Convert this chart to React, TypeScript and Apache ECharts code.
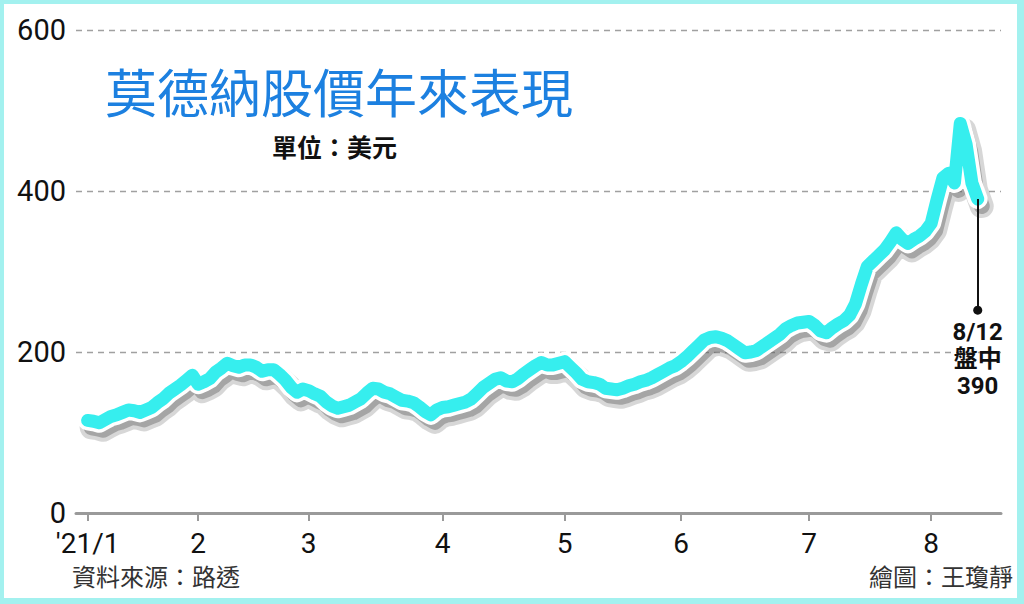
import React, { useEffect, useRef } from "react";
import * as echarts from "echarts";

const janDays = [4, 5, 6, 7, 8, 11, 12, 13, 14, 15, 19, 20, 21, 22, 25, 26, 27, 28, 29];
const febDays = [1, 2, 3, 4, 5, 8, 9, 10, 11, 12, 16, 17, 18, 19, 22, 23, 24, 25, 26];
const marDays = [1, 2, 3, 4, 5, 8, 9, 10, 11, 12, 15, 16, 17, 18, 19, 22, 23, 24, 25, 26, 29, 30, 31];
const aprDays = [1, 5, 6, 7, 8, 9, 12, 13, 14, 15, 16, 19, 20, 21, 22, 23, 26, 27, 28, 29, 30];
const mayDays = [3, 4, 5, 6, 7, 10, 11, 12, 13, 14, 17, 18, 19, 20, 21, 24, 25, 26, 27, 28];
const junDays = [1, 2, 3, 4, 7, 8, 9, 10, 11, 14, 15, 16, 17, 18, 21, 22, 23, 24, 25, 28, 29, 30];
const julDays = [1, 2, 6, 7, 8, 9, 12, 13, 14, 15, 16, 19, 20, 21, 22, 23, 26, 27, 28, 29, 30];
const augDays = [2, 3, 4, 5, 6, 9, 10, 11, 12];

const janPrices = [115, 114, 112, 116, 120, 122, 125, 128, 127, 125, 128, 131, 137, 142, 149, 154, 159, 165, 171];
const febPrices = [160, 163, 167, 175, 180, 186, 183, 181, 184, 184, 181, 176, 178, 178, 172, 165, 156, 150, 154];
const marPrices = [152, 148, 145, 138, 133, 130, 132, 134, 138, 142, 149, 155, 154, 150, 148, 144, 140, 139, 137, 132, 126, 122, 128];
const aprPrices = [131, 132, 134, 136, 138, 142, 149, 156, 161, 166, 168, 164, 163, 167, 173, 178, 183, 187, 184, 184, 186];
const mayPrices = [188, 181, 174, 166, 163, 162, 160, 155, 154, 153, 155, 158, 160, 163, 165, 168, 172, 176, 180, 183];
const junPrices = [188, 194, 201, 208, 215, 218, 219, 217, 214, 209, 204, 199, 200, 202, 207, 212, 217, 222, 229, 233, 236, 237];
const julPrices = [238, 233, 226, 224, 230, 235, 239, 246, 260, 284, 306, 313, 320, 327, 337, 348, 340, 335, 340, 344, 350];
const augPrices = [360, 389, 416, 422, 410, 484, 458, 410, 390];

const monthLabels = ["'21/1", "2", "3", "4", "5", "6", "7", "8"];
const yTicks = [0, 200, 400, 600];

const lastDate = "2021-08-12";
const lastPrice = 390;
const calloutEnd = 252;

const monthDays = [janDays, febDays, marDays, aprDays, mayDays, junDays, julDays, augDays];
const monthPrices = [janPrices, febPrices, marPrices, aprPrices, mayPrices, junPrices, julPrices, augPrices];

function buildData() {
  const cats: string[] = ["pad-a", "pad-b"];
  const vals: (number | null)[] = [null, null];
  const labelMap: Record<string, string> = {};
  monthDays.forEach((days, mi) => {
    days.forEach((d, di) => {
      const key = `2021-${String(mi + 1).padStart(2, "0")}-${String(d).padStart(2, "0")}`;
      cats.push(key);
      vals.push(monthPrices[mi][di]);
      if (di === 0) labelMap[key] = monthLabels[mi];
    });
  });
  ["pad-c", "pad-d", "pad-e", "pad-f"].forEach((p) => {
    cats.push(p);
    vals.push(null);
  });
  return { cats, vals, labelMap };
}

export default function App() {
  const ref = useRef<HTMLDivElement>(null);
  useEffect(() => {
    if (!ref.current) return;
    const chart = echarts.init(ref.current, null, { renderer: "svg" });
    const { cats, vals, labelMap } = buildData();
    const isMonth = (_i: number, v: string) => labelMap[v] !== undefined;
    const borderColor = "#a3f1ef";
    const yMin = yTicks[0];
    const yMax = yTicks[yTicks.length - 1];
    chart.setOption({
      animation: false,
      backgroundColor: "#ffffff",
      grid: [
        { left: 76, right: 23, top: 30, bottom: 91, containLabel: false },
        { left: 80, right: 19, top: 37, bottom: 84, containLabel: false },
      ],
      xAxis: [
        {
          type: "category",
          data: cats,
          boundaryGap: false,
          axisLine: { lineStyle: { color: "#9a9a9a", width: 3 } },
          axisTick: { interval: isMonth, length: 8, lineStyle: { color: "#9a9a9a", width: 2 } },
          axisLabel: {
            interval: isMonth,
            formatter: (v: string) => labelMap[v] || "",
            fontSize: 28,
            fontFamily: "Roboto",
            color: "#111",
            margin: 16,
          },
          splitLine: { show: false },
          z: 4,
        },
        {
          type: "category",
          gridIndex: 1,
          data: cats,
          boundaryGap: false,
          show: false,
        },
      ],
      yAxis: [
        {
          type: "value",
          min: yMin,
          max: yMax,
          interval: 200,
          axisLine: { show: false },
          axisTick: { show: false },
          axisLabel: { fontSize: 29, fontFamily: "Roboto", color: "#111", margin: 10 },
          splitLine: { lineStyle: { color: "#a0a0a0", width: 1.3, type: [6, 5] } },
        },
        {
          type: "value",
          gridIndex: 1,
          min: yMin,
          max: yMax,
          interval: 200,
          show: false,
          splitLine: { show: false },
        },
      ],
      series: [
        {
          type: "line",
          xAxisIndex: 1,
          yAxisIndex: 1,
          data: vals,
          showSymbol: false,
          silent: true,
          z: 1,
          lineStyle: { color: "rgba(110,110,110,0.28)", width: 24, cap: "round", join: "round" },
        },
        {
          type: "line",
          xAxisIndex: 1,
          yAxisIndex: 1,
          data: vals,
          showSymbol: false,
          silent: true,
          z: 1,
          lineStyle: { color: "rgba(90,90,90,0.4)", width: 16, cap: "round", join: "round" },
        },
        {
          type: "line",
          data: vals,
          showSymbol: false,
          silent: true,
          z: 2,
          lineStyle: { color: "#ffffff", width: 20, cap: "round", join: "round" },
        },
        {
          type: "line",
          data: vals,
          showSymbol: false,
          silent: true,
          z: 3,
          lineStyle: { color: "#36eeee", width: 13, cap: "round", join: "round" },
          markLine: {
            silent: true,
            symbol: ["none", "circle"],
            symbolSize: 9,
            label: { show: false },
            lineStyle: { color: "#111", width: 2, type: "solid" },
            data: [[{ coord: [lastDate, lastPrice] }, { coord: [lastDate, calloutEnd] }]],
          },
          markPoint: {
            silent: true,
            symbol: "circle",
            symbolSize: 1,
            itemStyle: { color: "#111" },
            label: {
              show: true,
              position: "bottom",
              distance: 8,
              formatter: `8/12\n盤中\n${lastPrice}`,
              fontSize: 24,
              lineHeight: 27,
              fontWeight: "bold",
              fontFamily: "Roboto, 'Noto Sans CJK TC'",
              color: "#111",
              align: "center",
            },
            data: [{ coord: [lastDate, calloutEnd] }],
          },
        },
      ],
      graphic: [
        { type: "rect", shape: { x: 0, y: 0, width: 1024, height: 4 }, style: { fill: borderColor } },
        { type: "rect", shape: { x: 0, y: 0, width: 4, height: 604 }, style: { fill: borderColor } },
        { type: "rect", shape: { x: 1017, y: 0, width: 7, height: 604 }, style: { fill: borderColor } },
        { type: "rect", shape: { x: 0, y: 598, width: 1024, height: 6 }, style: { fill: borderColor } },
        {
          type: "text",
          left: 105,
          top: 64,
          style: {
            text: "莫德納股價年來表現",
            fontSize: 52,
            fontFamily: "'Noto Sans CJK TC'",
            fill: "#1c80e0",
          },
        },
        {
          type: "text",
          left: 272,
          top: 133,
          style: {
            text: "單位：美元",
            fontSize: 25,
            fontWeight: "bold",
            fontFamily: "'Noto Sans CJK TC'",
            fill: "#111",
          },
        },
        {
          type: "text",
          left: 72,
          top: 563,
          style: { text: "資料來源：路透", fontSize: 24, fontFamily: "'Noto Sans CJK TC'", fill: "#333" },
        },
        {
          type: "text",
          right: 11,
          top: 563,
          style: { text: "繪圖：王瓊靜", fontSize: 24, fontFamily: "'Noto Sans CJK TC'", fill: "#333" },
        },
      ],
    });
    return () => chart.dispose();
  }, []);
  return (
    <div
      ref={ref}
      style={{ position: "absolute", left: 0, top: 0, width: 1024, height: 604, background: "#fff" }}
    />
  );
}
